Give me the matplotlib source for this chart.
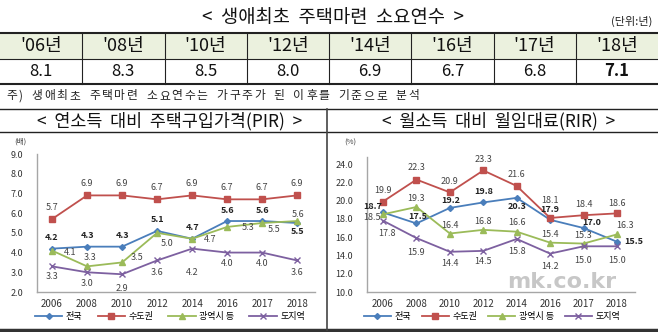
import numpy as np
import matplotlib
matplotlib.use("Agg")
import matplotlib.pyplot as plt
from matplotlib.lines import Line2D
from matplotlib.patches import Rectangle

plt.rcParams['font.family'] = ['Noto Sans CJK KR', 'DejaVu Sans']

# 생애최초 주택마련 소요연수 (표)
years_tbl = ["'06년", "'08년", "'10년", "'12년", "'14년", "'16년", "'17년", "'18년"]
years_needed = [8.1, 8.3, 8.5, 8.0, 6.9, 6.7, 6.8, 7.1]
note = "주) 생애최초 주택마련 소요연수는 가구주가 된 이후를 기준으로 분석"

# 그래프 공통
years = ["2006", "2008", "2010", "2012", "2014", "2016", "2017", "2018"]
series_names = ["전국", "수도권", "광역시 등", "도지역"]

# PIR (배)
pir_nation = [4.2, 4.3, 4.3, 5.1, 4.7, 5.6, 5.6, 5.5]
pir_capital = [5.7, 6.9, 6.9, 6.7, 6.9, 6.7, 6.7, 6.9]
pir_metro = [4.1, 3.3, 3.5, 5.0, 4.7, 5.3, 5.5, 5.6]
pir_province = [3.3, 3.0, 2.9, 3.6, 4.2, 4.0, 4.0, 3.6]

# RIR (%)
rir_nation = [18.7, 17.5, 19.2, 19.8, 20.3, 17.9, 17.0, 15.5]
rir_capital = [19.9, 22.3, 20.9, 23.3, 21.6, 18.1, 18.4, 18.6]
rir_metro = [18.5, 19.3, 16.4, 16.8, 16.6, 15.4, 15.3, 16.3]
rir_province = [17.8, 15.9, 14.4, 14.5, 15.8, 14.2, 15.0, 15.0]

# 스타일
colors = ["#4a7ebb", "#c0504d", "#9bbb59", "#7d60a0"]
markers = ["D", "s", "^", "x"]
msizes = [3, 4.5, 4.5, 4.5]

# 라벨 위치 (픽셀 오프셋)
pir_off = [
    [(0, 11)] * 7 + [(0, -8)],
    [(0, 12)] * 8,
    [(18, -2), (3, 9), (15, 5), (10, -11), (18, -1), (21, -1), (12, -7), (1, 7)],
    [(0, -10), (0, -11), (0, -14), (0, -12), (0, -24), (0, -11), (0, -11), (0, -12)],
]
rir_off = [
    [(-10, 6), (1, 7), (1, 7), (0, 11), (0, -9), (0, 10), (8, 6), (17, 0)],
    [(0, 11), (0, 12), (0, 11), (0, 11), (0, 11), (0, 17), (0, 11), (0, 10)],
    [(-11, -3), (0, 8), (0, 8), (0, 8), (0, 9), (0, 8), (0, 8), (8, 9)],
    [(4, -13), (0, -14), (0, -12), (0, -11), (0, -13), (0, -13), (0, -14), (0, -14)],
]

W, H = 658, 332
fig = plt.figure(figsize=(W / 100, H / 100), dpi=100)
fig.patch.set_facecolor("white")


def fx(x):
    return x / W


def fy(y):
    return 1 - y / H


def hline(y, x0=0, x1=W, lw=1.0, c="#222222"):
    fig.add_artist(Line2D([fx(x0), fx(x1)], [fy(y), fy(y)], lw=lw, color=c))


def vline(x, y0, y1, lw=1.0, c="#222222"):
    fig.add_artist(Line2D([fx(x), fx(x)], [fy(y0), fy(y1)], lw=lw, color=c))


# 제목
fig.text(fx(333), fy(18), "<  생애최초  주택마련  소요연수  >", ha="center", va="center",
         fontsize=13.5, color="#111111")
fig.text(fx(652), fy(21), "(단위:년)", ha="right", va="center", fontsize=8, color="#222222")

# 표
fig.add_artist(Rectangle((0, fy(59)), 1, fy(33) - fy(59), transform=fig.transFigure,
                         facecolor="#ebf1de", edgecolor="none"))
cw = W / len(years_tbl)
for i, (lab, v) in enumerate(zip(years_tbl, years_needed)):
    cx = cw * (i + 0.5)
    fig.text(fx(cx), fy(46), lab, ha="center", va="center", fontsize=13, color="#111111")
    fig.text(fx(cx), fy(71.5), f"{v:.1f}", ha="center", va="center", fontsize=12,
             color="#111111", fontweight="bold" if i == len(years_tbl) - 1 else "normal")
    if i > 0:
        vline(cw * i, 33, 84, lw=0.8)
hline(33, lw=1.5)
hline(59, lw=0.8)
hline(84, lw=1.5)

# 주석 (자간 넓게)
xpos = 6
for ch in note:
    fig.text(fx(xpos), fy(96), ch, ha="left", va="center", fontsize=8.5, color="#222222")
    if ch == " ":
        xpos += 7
    elif ch == ")":
        xpos += 6
    else:
        xpos += 12.6

hline(109, lw=1.0)
hline(132, lw=1.0)
hline(330, lw=2.5, c="#333333")
vline(327, 109, 330, lw=1.2, c="#444444")

fig.text(fx(170), fy(121), "<  연소득  대비  주택구입가격(PIR)  >", ha="center", va="center",
         fontsize=12.5, color="#111111")
fig.text(fx(499), fy(121), "<  월소득  대비  월임대료(RIR)  >", ha="center", va="center",
         fontsize=12.5, color="#111111")


def draw_panel(ax, data, offsets, ylim, yticks, xlim, unit, unit_xy, legend_x, colsp):
    x = np.arange(len(years))
    handles = []
    for k, (vals, off) in enumerate(zip(data, offsets)):
        h, = ax.plot(x, vals, color=colors[k], marker=markers[k], markersize=msizes[k],
                     lw=1.3, markeredgewidth=1.0, label=series_names[k], clip_on=False)
        handles.append(h)
        for xi, v, (dx, dy) in zip(x, vals, off):
            ax.annotate(f"{v:.1f}", (xi, v), xytext=(dx, dy), textcoords="offset pixels",
                        ha="center", va="center", fontsize=6.5,
                        color="#222222" if k == 0 else "#444444",
                        fontweight="bold" if k == 0 else "normal")
    ax.set_xlim(*xlim)
    ax.set_ylim(*ylim)
    ax.set_yticks(yticks)
    ax.set_yticklabels([f"{t:.1f}" for t in yticks])
    ax.set_xticks(x)
    ax.set_xticklabels(years)
    for s in ["top", "right"]:
        ax.spines[s].set_visible(False)
    for s in ["left", "bottom"]:
        ax.spines[s].set_color("#a6a6a6")
        ax.spines[s].set_linewidth(1.0)
    ax.tick_params(axis="both", length=0, labelsize=6.5, colors="#333333")
    ax.tick_params(axis="y", pad=10)
    ax.tick_params(axis="x", pad=5, labelsize=7)
    ax.patch.set_alpha(0)
    fig.text(fx(unit_xy[0]), fy(unit_xy[1]), unit, ha="center", va="center",
             fontsize=5.5, color="#444444")
    ax.legend(handles=handles, loc="center", bbox_to_anchor=(fx(legend_x), fy(317)),
              bbox_transform=fig.transFigure, ncol=4, frameon=False, fontsize=6.5,
              handlelength=3.0, columnspacing=colsp, handletextpad=0.4)


ax1 = fig.add_axes([fx(37), fy(292), fx(315) - fx(37), fy(154) - fy(292)])
draw_panel(ax1, [pir_nation, pir_capital, pir_metro, pir_province], pir_off,
           (2, 9), np.arange(2, 9.5, 1.0), (-0.43, 7.51), "(배)", (20, 142), 170, 1.7)

ax2 = fig.add_axes([fx(367), fy(292), fx(635) - fx(367), fy(157) - fy(292)])
draw_panel(ax2, [rir_nation, rir_capital, rir_metro, rir_province], rir_off,
           (10, 24.77), np.arange(10, 24.5, 2.0), (-0.48, 7.54), "(%)", (350, 143), 492, 1.2)

fig.text(fx(562), fy(282), "mk.co.kr", ha="center", va="center", fontsize=16,
         fontweight="bold", color="#9a9a9a", alpha=0.55, family="DejaVu Sans", zorder=0)

fig.savefig("out.png", dpi=100)
